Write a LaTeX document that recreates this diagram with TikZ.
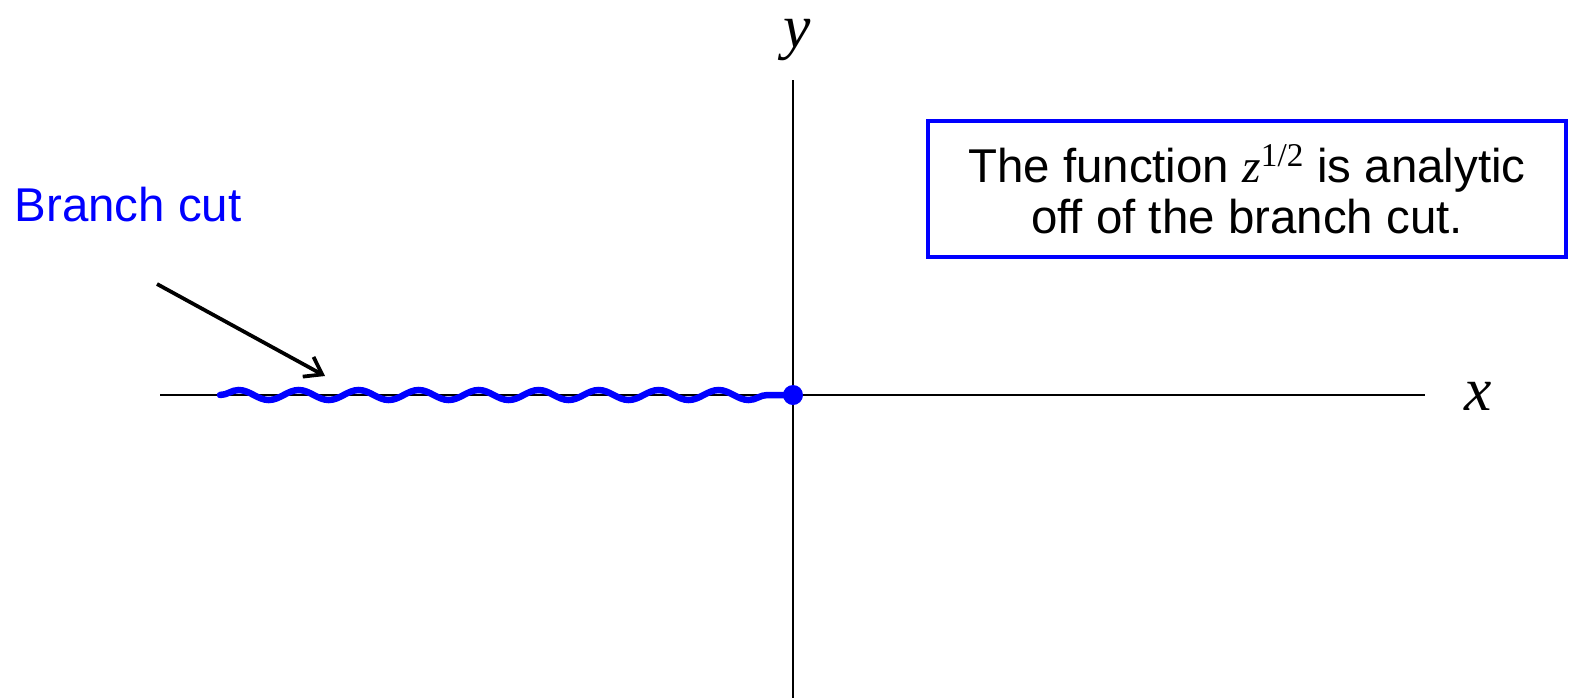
\documentclass[tikz,border=0pt]{standalone}
\usepackage{fontspec}
\setmainfont{Liberation Sans}
\newfontfamily\timesfont{Liberation Serif}
\usetikzlibrary{positioning, arrows.meta, decorations.pathmorphing}
\definecolor{cutblue}{RGB}{0,0,255}
\begin{document}
\begin{tikzpicture}[
    x=0.02cm, y=-0.02cm,
    axis/.style={draw, black, line width=0.05cm},
    axislabel/.style={font=\fontsize{35}{35}\timesfont\itshape, inner sep=0pt},
    cut/.style={draw=cutblue, line width=0.13cm, line cap=round, decorate, decoration={snake, amplitude=0.1cm, segment length=1.2cm}},
    pointer/.style={draw, black, line width=0.075cm, -{Straight Barb[length=0.32cm, width=0.45cm]}},
    note/.style={draw=cutblue, line width=0.07cm, minimum width=12.76cm, minimum height=2.72cm, align=center, font=\fontsize{27}{29}\selectfont}
]
    \useasboundingbox (0,0) rectangle (1570,698);

    % ================= AXES =================
    \coordinate (XL) at (160,395);
    \coordinate (XR) at (1425,395);
    \coordinate (YT) at (793,80);
    \coordinate (YB) at (793,698);
    \draw[axis] (XL) -- (XR);
    \draw[axis] (YT) -- (YB);
    \node[axislabel] (XLAB) at (1478,396) {x};
    \node[axislabel] (YLAB) at (797,40) {y};

    % ================= BRANCH CUT =================
    \coordinate (CUTSTART) at (220,395);
    \node[circle, fill=cutblue, inner sep=0pt, minimum size=0.4cm] (ORIGIN) at (793,395) {};
    \draw[cut] (CUTSTART) -- (ORIGIN.center);

    \node[text=cutblue, font=\fontsize{27}{30}\selectfont] (CUTLAB) at (128,205) {Branch cut};
    \coordinate (TAILPT) at (157,284);
    \coordinate (TIPPT) at (325,376);
    \draw[pointer] (TAILPT) -- (TIPPT);

    % ================= NOTE =================
    \node[note] (NOTE) at (1247,189) {The function {\timesfont\itshape z}\textsuperscript{\timesfont 1/2} is analytic\\off of the branch cut.};

\end{tikzpicture}
\end{document}
